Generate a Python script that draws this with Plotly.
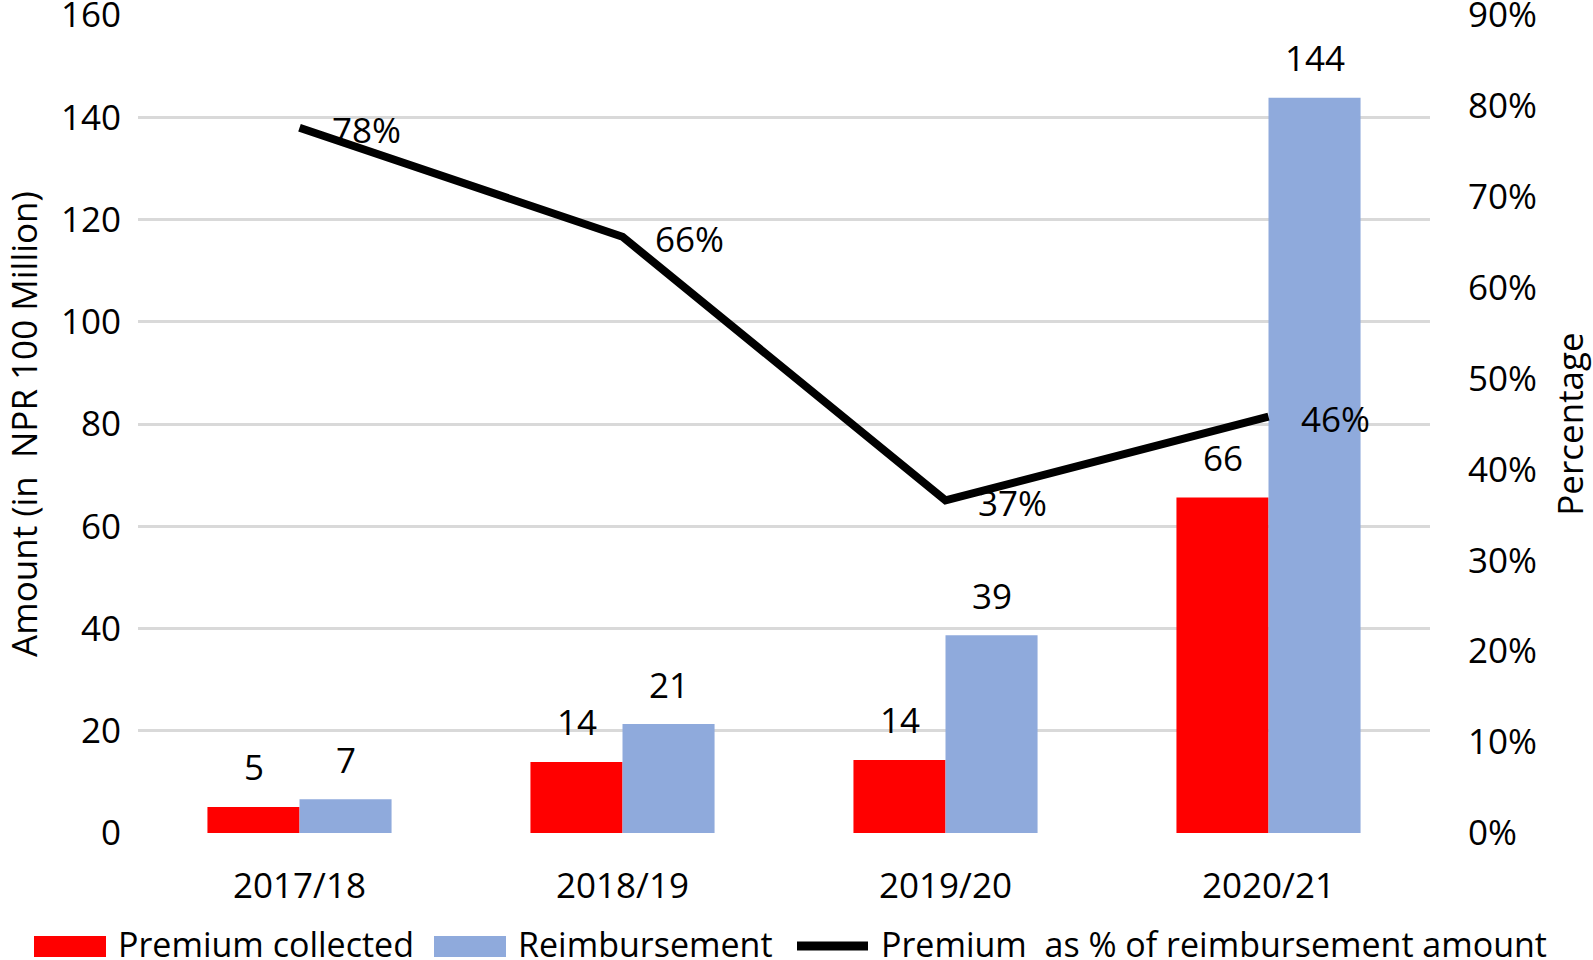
import plotly.graph_objects as go

years = ["2017/18", "2018/19", "2019/20", "2020/21"]
premium = [5.1, 13.9, 14.3, 65.6]
reimbursement = [6.6, 21.3, 38.7, 143.8]
premium_pct = [0.776, 0.656, 0.366, 0.458]

legend_names = ["Premium collected", "Reimbursement", "Premium\u00a0 as % of reimbursement amount"]

FONT = "Open Sans"
SIZE = 35
GRID = "#d9d9d9"
RED = "#ff0000"
BLUE = "#8faadc"

W, H = 1593, 960
ML, MR, MT, MB = 138, 163, 15, 127
PW, PH = W - ML - MR, H - MT - MB


def px(x):
    return (x - ML) / PW


def py(y):
    return (H - MB - y) / PH


fig = go.Figure()
fig.add_trace(go.Bar(x=years, y=premium, name=legend_names[0],
                     marker=dict(color=RED, line=dict(width=0))))
fig.add_trace(go.Bar(x=years, y=reimbursement, name=legend_names[1],
                     marker=dict(color=BLUE, line=dict(width=0))))
fig.add_trace(go.Scatter(x=years, y=premium_pct, name=legend_names[2], mode="lines",
                         line=dict(color="black", width=8), yaxis="y2"))

txt = dict(size=SIZE, color="black", family=FONT)

# bar value labels
for vals, shift in [(premium, -46), (reimbursement, 46)]:
    for yr, v in zip(years, vals):
        fig.add_annotation(x=yr, y=v, text=f"{v:.0f}", showarrow=False,
                           xshift=shift, yshift=40, font=txt)

# percentage labels to the right of each point
for yr, p in zip(years, premium_pct):
    fig.add_annotation(x=yr, y=p, yref="y2", text=f"{p:.0%}", showarrow=False,
                       xanchor="left", xshift=30, yshift=-2, font=txt)

# legend drawn by hand (Excel-style wide swatches)
leg_y = 944
fig.add_shape(type="rect", xref="paper", yref="paper", x0=px(34), x1=px(106),
              y0=py(957), y1=py(936), fillcolor=RED, line=dict(width=0))
fig.add_shape(type="rect", xref="paper", yref="paper", x0=px(434), x1=px(506),
              y0=py(957), y1=py(936), fillcolor=BLUE, line=dict(width=0))
fig.add_shape(type="line", xref="paper", yref="paper", x0=px(797), x1=px(868),
              y0=py(946), y1=py(946), line=dict(color="black", width=9))
for name, x in zip(legend_names, [116, 516, 879]):
    fig.add_annotation(xref="paper", yref="paper", x=px(x), y=py(leg_y), text=name,
                       showarrow=False, xanchor="left", yanchor="middle",
                       font=dict(size=34, color="black", family=FONT))

fig.update_layout(
    width=W, height=H,
    plot_bgcolor="white", paper_bgcolor="white",
    font=dict(family=FONT, size=SIZE, color="black"),
    margin=dict(l=ML, r=MR, t=MT, b=MB, autoexpand=False),
    barmode="group", bargap=0.43, bargroupgap=0,
    showlegend=False,
    xaxis=dict(showgrid=False, showline=False, ticks="outside", ticklen=22,
               tickcolor="rgba(0,0,0,0)", tickfont=dict(size=SIZE)),
    yaxis=dict(range=[0, 160], dtick=20, showgrid=True, gridcolor=GRID, gridwidth=3,
               zeroline=False, showline=False, ticks="outside", ticklen=9,
               tickcolor="rgba(0,0,0,0)", tickfont=dict(size=SIZE), ticklabeloverflow="allow",
               title=dict(text="Amount (in\u00a0 NPR 100 Million)", font=dict(size=SIZE), standoff=45)),
    yaxis2=dict(range=[0, 0.9], dtick=0.1, tickformat=".0%", overlaying="y", side="right",
                showgrid=False, zeroline=False, showline=False, ticks="outside", ticklen=30,
                tickcolor="rgba(0,0,0,0)", tickfont=dict(size=SIZE), ticklabeloverflow="allow",
                title=dict(text="Percentage", font=dict(size=SIZE), standoff=31)),
)

# drop the browser's default 8px body margin so the figure fills the window exactly
fig.write_html("out.html", config={"displayModeBar": False},
               post_script="document.body.style.margin = '0';")
